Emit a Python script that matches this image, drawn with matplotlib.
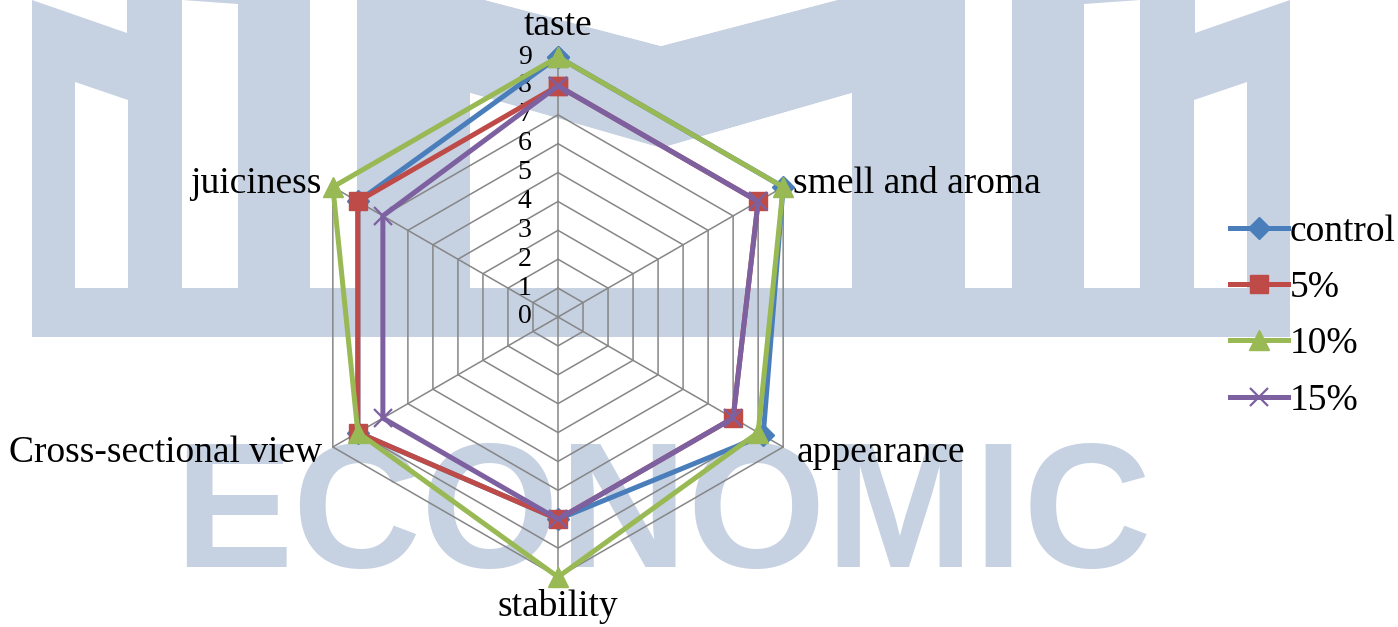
import numpy as np
import matplotlib.pyplot as plt
from matplotlib.patches import Polygon, Rectangle

# ---- data ----
categories = ['taste', 'smell and aroma', 'appearance', 'stability',
              'Cross-sectional view', 'juiciness']
series_names = ['control', '5%', '10%', '15%']
control = [9, 9, 8.2, 7, 8, 8]
pct5 = [8, 8, 7, 7, 8, 8]
pct10 = [9, 9, 8, 9, 8, 9]
pct15 = [8, 8, 7, 7, 7, 7]
radial_ticks = list(range(0, 10))

colors = ['#4A7EBB', '#BE4B48', '#98B954', '#7D60A0']
markers = ['D', 's', '^', 'x']
msizes = [11, 13, 14, 13]

W, H = 1398, 627
fig = plt.figure(figsize=(W / 100, H / 100), dpi=100)
fig.patch.set_facecolor('white')
plt.rcParams['font.family'] = ['Liberation Serif', 'DejaVu Serif']

# ---- watermark in the background (pixel coords) ----
bg = fig.add_axes([0, 0, 1, 1], zorder=0)
bg.set_xlim(0, W)
bg.set_ylim(H, 0)
bg.axis('off')
wm = '#C6D1E2'
bg.add_patch(Rectangle((32, 0), 1258, 337, facecolor=wm, edgecolor='none'))
holes = [
    [(32, 0), (127, 0), (127, 33)],
    [(75, 82), (128, 100), (128, 288), (75, 288)],
    [(182, 0), (238, 4), (238, 288), (182, 288)],
    [(310, 0), (357, 0), (357, 288), (310, 288)],
    [(470, 93), (661, 148), (852, 93), (852, 288), (470, 288)],
    [(485, 0), (837, 0), (661, 46)],
]
for poly in holes:
    bg.add_patch(Polygon(poly, closed=True, facecolor='white', edgecolor='none'))
    mirrored = [(2 * 661 - x, y) for x, y in poly]
    bg.add_patch(Polygon(mirrored, closed=True, facecolor='white', edgecolor='none'))
bg.text(663, 567, 'ECONOMIC', ha='center', va='baseline', fontsize=128,
        fontweight='bold', color=wm, family='Liberation Sans')

# ---- radar ----
cx, cy, R = 558, 317, 260
ax = fig.add_axes([(cx - R) / W, (H - cy - R) / H, 2 * R / W, 2 * R / H],
                  projection='polar', zorder=2)
ax.set_theta_offset(np.pi / 2)
ax.set_theta_direction(-1)
ax.set_ylim(0, 9)
ax.patch.set_visible(False)
ax.spines['polar'].set_visible(False)
ax.grid(False)
ax.set_xticks([])
ax.set_yticks([])

n = len(categories)
angles = np.arange(n) * 2 * np.pi / n
ang_c = np.append(angles, angles[0])

grid_col = '#868686'
for k in radial_ticks[1:]:
    ax.plot(ang_c, [k] * (n + 1), color=grid_col, lw=1.1, clip_on=False, zorder=1)
for a in angles:
    ax.plot([a, a], [0, radial_ticks[-1]], color=grid_col, lw=1.1, clip_on=False, zorder=1)

for k in radial_ticks:
    ax.annotate(str(k), (0, k), xytext=(-24, 0), textcoords='offset points',
                ha='center', va='center', fontsize=20, color='black')

series = [control, pct5, pct10, pct15]
for i, vals in enumerate(series):
    v = np.append(vals, vals[0])
    ax.plot(ang_c, v, color=colors[i], lw=3.6, marker=markers[i], ms=msizes[i],
            mec=colors[i], mew=1.6 if markers[i] == 'x' else 1,
            label=series_names[i], clip_on=False, zorder=3 + i)

# category labels (offsets in points from the r=9 tip)
lab_pos = [((0, 16), 'center'), ((7, -4), 'left'), ((10, -11), 'left'),
           ((0, -28), 'center'), ((-8, -11), 'right'), ((-8, -4), 'right')]
for a, name, (off, ha) in zip(angles, categories, lab_pos):
    ax.annotate(name, (a, 9), xytext=off, textcoords='offset points',
                ha=ha, va='baseline', fontsize=27, color='black')

fig.legend(loc='center left', bbox_to_anchor=(1230 / W, 1 - 316 / H),
           frameon=False, fontsize=27, handlelength=1.55, handletextpad=0.05,
           labelspacing=0.58, borderpad=0, borderaxespad=0)

fig.savefig('out.png', dpi=100, facecolor='white')
